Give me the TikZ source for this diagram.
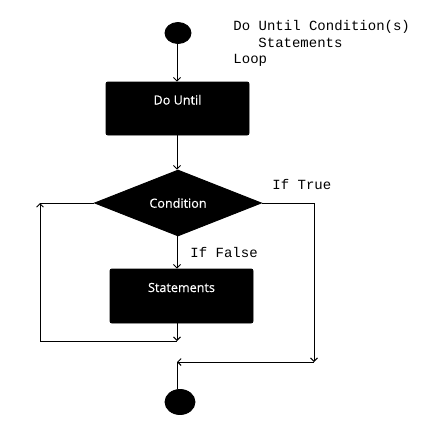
\documentclass[tikz,border=0pt]{standalone}
\usepackage{fontspec}
\setmainfont{Open Sans}
\setmonofont{Liberation Mono}
\newfontfamily\boxfont{Open Sans}[FakeBold=0.5]
\usetikzlibrary{shapes.geometric,arrows.meta}

\begin{document}
\begin{tikzpicture}[x=1pt,y=-1pt,line width=0.9pt,
    flow/.style={-{Straight Barb[length=3.5pt,width=7pt]}},
    block/.style={draw,fill=black,rounded corners=2pt,minimum width=143pt,
      text=white,font=\boxfont\fontsize{12.6}{14}\selectfont,text height=8pt,text depth=16pt},
    test/.style={diamond,draw,fill=black,aspect=2.53,inner sep=0pt,
      minimum width=167pt,minimum height=66pt,text=white,font=\boxfont\fontsize{12.6}{14}\selectfont},
    terminal/.style={ellipse,draw,fill=black,inner sep=0pt},
    code/.style={inner sep=0pt,anchor=base west,font=\ttfamily\fontsize{14}{17}\selectfont}]
    \useasboundingbox (0,0) rectangle (429,439);
    %code
    \node [code] (line1) at (233,30) {Do Until Condition(s)};
    \node [code] (line2) at (258,47) {Statements};
    \node [code] (line3) at (233,63) {Loop};
    %chart
    \node [terminal,minimum width=26pt,minimum height=21pt] (start) at (178,33) {};
    \node [block,minimum height=53pt] (dountil) at (177.5,108.5) {Do Until};
    \node [test] (cond) at (178,203) {Condition};
    \node [block,minimum height=54pt] (stmts) at (181.5,296) {Statements};
    \node [terminal,minimum width=30pt,minimum height=25pt] (stop) at (180,402) {};
    \node [code] (iftrue) at (272,189.5) {If True};
    \node [code] (iffalse) at (190,257.5) {If False};
    \coordinate (back) at (177,341);
    \coordinate (corner) at (40,341);
    \coordinate (up) at (40,203);
    \coordinate (side) at (314,203);
    \coordinate (down) at (314,362);
    \coordinate (merge) at (177,362);
    %arrows
    \draw [flow] (start.south -| back) -- (dountil.north -| back);
    \draw [flow] (dountil.south -| back) -- (cond.north -| back);
    \draw [flow] (cond.south -| back) -- (stmts.north -| back);
    \draw [flow] (stmts.south -| back) -- (back);
    \draw [flow] (back) -- (corner) -- (up);
    \draw (up) -- (cond.west);
    \draw [flow] (cond.east) -- (side) -- (down);
    \draw [flow] (down) -- (merge);
    \draw (merge) -- (merge |- stop.north);
\end{tikzpicture}
\end{document}
